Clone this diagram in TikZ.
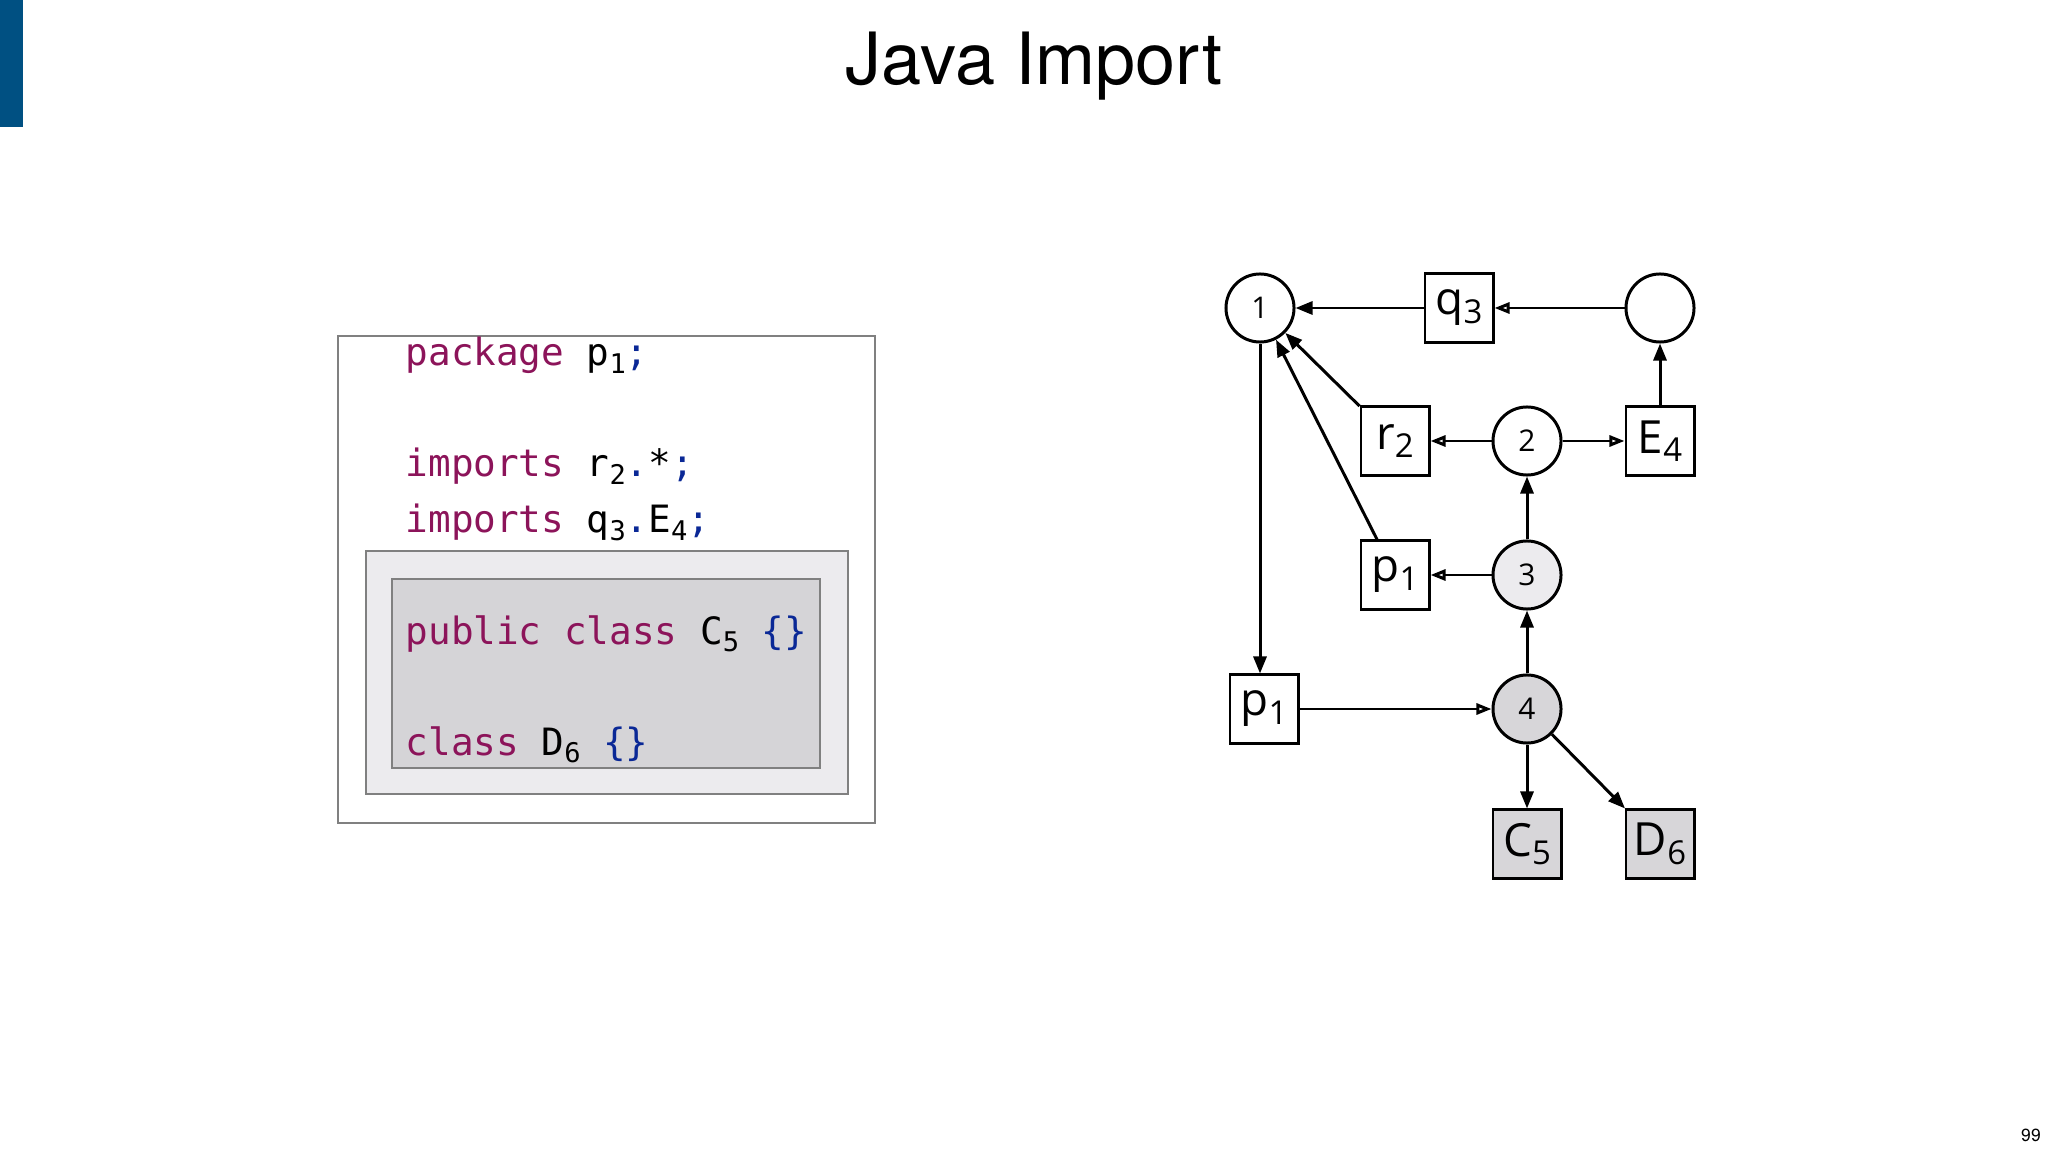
\documentclass[tikz,border=0pt]{standalone}
\usepackage{fontspec}
\usetikzlibrary{arrows.meta}
\newfontfamily\hv{TeX Gyre Heros}
\newfontfamily\codef{DejaVu Sans Mono}
\newfontfamily\lbl{Open Sans}
\definecolor{barblue}{RGB}{0,80,130}
\definecolor{kw}{RGB}{140,20,90}
\definecolor{pb}{RGB}{10,40,150}
\definecolor{mid}{RGB}{236,235,238}
\definecolor{inner}{RGB}{213,212,215}
\definecolor{g3}{RGB}{236,235,238}
\definecolor{g4}{RGB}{215,214,217}
\newcommand\sbs[1]{\raisebox{-0.35ex}{\scalebox{0.72}{#1}}}
\tikzset{
  every picture/.style={x=0.01cm,y=-0.01cm},
  circ/.style={circle,draw,line width=0.85pt,minimum size=0.68cm,inner sep=0pt,font=\lbl\fontsize{8.5}{10}\selectfont},
  box/.style={rectangle,draw,line width=0.85pt,minimum size=0.68cm,inner sep=0pt,font=\lbl\fontsize{13}{15}\selectfont},
  fa/.style={line width=0.85pt,-{Triangle[length=0.17cm,width=0.13cm]}},
  oa/.style={line width=0.85pt,-{Triangle[open,length=0.15cm,width=0.11cm]}},
  code/.style={anchor=base west,inner sep=0pt,font=\codef\fontsize{10.7}{12}\selectfont},
  cbox/.style={draw=gray,line width=0.6pt}
}
\begin{document}
\begin{tikzpicture}
\useasboundingbox (0,0) rectangle (2048,1152);
\fill[barblue] (0,0) rectangle (23,127);
\node[font=\hv\fontsize{20.5}{24}\selectfont] (title) at (1034,66) {Java Import};
\node[font=\hv\fontsize{5}{6}\selectfont] (pg) at (2031,1135) {99};
% code boxes
\draw[cbox,fill=white] (338,336) rectangle (875,823);
\draw[cbox,fill=mid] (366,551) rectangle (848,794);
\draw[cbox,fill=inner] (392,579) rectangle (820,768);
\node[code] (l1) at (405,366) {\textcolor{kw}{package} p\sbs{1}\textcolor{pb}{;}};
\node[code] (l2) at (405,477) {\textcolor{kw}{imports} r\sbs{2}\textcolor{pb}{.}*\textcolor{pb}{;}};
\node[code] (l3) at (405,533) {\textcolor{kw}{imports} q\sbs{3}\textcolor{pb}{.}E\sbs{4}\textcolor{pb}{;}};
\node[code] (l4) at (405,644) {\textcolor{kw}{public class} C\sbs{5} \textcolor{pb}{\{\}}};
\node[code] (l5) at (405,755) {\textcolor{kw}{class} D\sbs{6} \textcolor{pb}{\{\}}};
% graph
\node[circ] (n1) at (1260,308) {1};
\node[box] (q3) at (1459,308) {q\sbs{3}};
\node[circ] (n0) at (1660,308) {};
\node[box] (r2) at (1395,441) {r\sbs{2}};
\node[circ] (n2) at (1527,441) {2};
\node[box] (E4) at (1660,441) {E\sbs{4}};
\node[box] (p1) at (1395,575) {p\sbs{1}};
\node[circ,fill=g3] (n3) at (1527,575) {3};
\node[box] (p1b) at (1264,709) {p\sbs{1}};
\node[circ,fill=g4] (n4) at (1527,709) {4};
\node[box,fill=g4] (C5) at (1527,844) {C\sbs{5}};
\node[box,fill=g4] (D6) at (1660,844) {D\sbs{6}};
\draw[fa] (q3) -- (n1);
\draw[oa] (n0) -- (q3);
\draw[fa] (r2) -- (n1);
\draw[fa] (p1) -- (n1);
\draw[fa] (n1.south) -- (n1.south |- p1b.north);
\draw[oa] (n2) -- (r2);
\draw[oa] (n2) -- (E4);
\draw[fa] (E4) -- (n0);
\draw[fa] (n3) -- (n2);
\draw[oa] (n3) -- (p1);
\draw[fa] (n4) -- (n3);
\draw[oa] (p1b) -- (n4);
\draw[fa] (n4) -- (C5);
\draw[fa] (n4) -- (D6);
\end{tikzpicture}
\end{document}
